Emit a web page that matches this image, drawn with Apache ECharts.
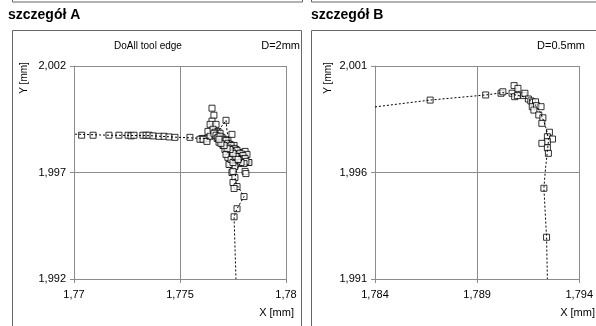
<!DOCTYPE html>
<html>
<head>
<meta charset="utf-8">
<script src="https://cdn.jsdelivr.net/npm/echarts@6/dist/echarts.min.js"></script>
<style>
  body { margin: 0; background: #fff; }
  #chart { width: 596px; height: 326px; }
</style>
</head>
<body>
<div id="chart"></div>
<script>
// tick labels (Polish decimal comma)
const xTicksA = ['1,77', '1,775', '1,78'];
const yTicksA = ['1,992', '1,997', '2,002'];
const xTicksB = ['1,784', '1,789', '1,794'];
const yTicksB = ['1,991', '1,996', '2,001'];

// detail A - measured points [X, Y] in mm
const pointsA = [
    [1.77036, 1.99875], [1.77090, 1.99875], [1.77165, 1.99875], [1.77212, 1.99875],
    [1.77255, 1.99875], [1.77269, 1.99872], [1.77283, 1.99875], [1.77325, 1.99875],
    [1.77340, 1.99875], [1.77354, 1.99875], [1.77373, 1.99872], [1.77401, 1.99870],
    [1.77425, 1.99870], [1.77448, 1.99867], [1.77476, 1.99865], [1.77547, 1.99865],
    [1.77604, 1.99860], [1.77627, 1.99860],
    [1.77651, 2.00002], [1.77660, 1.99969], [1.77717, 1.99945], [1.77651, 1.99941],
    [1.77642, 1.99926], [1.77670, 1.99926], [1.77632, 1.99893], [1.77656, 1.99903],
    [1.77679, 1.99893], [1.77745, 1.99879], [1.77594, 1.99856], [1.77609, 1.99856],
    [1.77627, 1.99846], [1.77642, 1.99870], [1.77665, 1.99889], [1.77679, 1.99875],
    [1.77689, 1.99884], [1.77698, 1.99865], [1.77708, 1.99856], [1.77693, 1.99846],
    [1.77717, 1.99842], [1.77726, 1.99851], [1.77736, 1.99832], [1.77722, 1.99823],
    [1.77745, 1.99818], [1.77755, 1.99827], [1.77750, 1.99804], [1.77764, 1.99808],
    [1.77774, 1.99794], [1.77759, 1.99785], [1.77783, 1.99780], [1.77769, 1.99771],
    [1.77792, 1.99761], [1.77778, 1.99752], [1.77802, 1.99771], [1.77675, 1.99860],
    [1.77684, 1.99842], [1.77703, 1.99827], [1.77712, 1.99808], [1.77731, 1.99799],
    [1.77741, 1.99785], [1.77755, 1.99771], [1.77764, 1.99757], [1.77774, 1.99742],
    [1.77788, 1.99794], [1.77807, 1.99799], [1.77816, 1.99785], [1.77821, 1.99747],
    [1.77726, 1.99771], [1.77736, 1.99738], [1.77759, 1.99728], [1.77807, 1.99705],
    [1.77745, 1.99700], [1.77759, 1.99676], [1.77750, 1.99653], [1.77769, 1.99634],
    [1.77755, 1.99625], [1.77802, 1.99587], [1.77769, 1.99530], [1.77755, 1.99492],
    [1.77731, 1.99738], [1.77825, 1.99747], [1.77811, 1.99695], [1.77750, 1.99705],
    [1.77717, 1.99785], [1.77741, 1.99761], [1.77750, 1.99747], [1.77700, 1.99835],
    [1.77730, 1.99815], [1.77748, 1.99790], [1.77760, 1.99770], [1.77785, 1.99765],
    [1.77660, 1.99884], [1.77670, 1.99875], [1.77679, 1.99865], [1.77689, 1.99870],
    [1.77698, 1.99856], [1.77708, 1.99846], [1.77717, 1.99851], [1.77717, 1.99832],
    [1.77726, 1.99837], [1.77731, 1.99823], [1.77741, 1.99827], [1.77745, 1.99808],
    [1.77755, 1.99813], [1.77759, 1.99799], [1.77769, 1.99804], [1.77774, 1.99785],
    [1.77783, 1.99790], [1.77788, 1.99775], [1.77797, 1.99780], [1.77797, 1.99761],
    [1.77807, 1.99766], [1.77778, 1.99766], [1.77764, 1.99775], [1.77750, 1.99790],
    [1.77736, 1.99808], [1.77722, 1.99813], [1.77708, 1.99827], [1.77693, 1.99837],
    [1.77684, 1.99856], [1.77811, 1.99752], [1.77802, 1.99742], [1.77788, 1.99747],
    [1.77774, 1.99761]
];

// detail A - dotted tool edge profile
const profileA = [
    [1.77005, 1.99880], [1.77165, 1.99875], [1.77358, 1.99873], [1.77476, 1.99866],
    [1.77604, 1.99860], [1.77656, 1.99862], [1.77717, 1.99945], [1.77722, 1.99893],
    [1.77736, 1.99832], [1.77774, 1.99794], [1.77792, 1.99761], [1.77769, 1.99715],
    [1.77759, 1.99676], [1.77764, 1.99650], [1.77788, 1.99610], [1.77802, 1.99587],
    [1.77769, 1.99530], [1.77755, 1.99492], [1.77764, 1.99200]
];

// detail B - measured points
const pointsB = [
    [1.78670, 1.99940], [1.78942, 1.99964], [1.79017, 1.99972], [1.79026, 1.99979],
    [1.79071, 1.99972], [1.79081, 2.00008], [1.79100, 1.99995], [1.79084, 1.99956],
    [1.79097, 1.99961], [1.79128, 1.99961], [1.79134, 1.99972], [1.79151, 1.99945],
    [1.79163, 1.99936], [1.79172, 1.99930], [1.79186, 1.99932], [1.79170, 1.99909],
    [1.79191, 1.99914], [1.79213, 1.99909], [1.79178, 1.99893], [1.79202, 1.99870],
    [1.79222, 1.99857], [1.79217, 1.99831], [1.79254, 1.99789], [1.79244, 1.99768],
    [1.79269, 1.99757], [1.79244, 1.99745], [1.79217, 1.99737], [1.79244, 1.99716],
    [1.79249, 1.99690], [1.79227, 1.99526], [1.79240, 1.99296]
];

// detail B - dotted profile
const profileB = [
    [1.78400, 1.99908], [1.78670, 1.99940], [1.78942, 1.99964], [1.79026, 1.99975],
    [1.79084, 1.99965], [1.79130, 1.99955], [1.79165, 1.99935], [1.79190, 1.99912],
    [1.79210, 1.99880], [1.79225, 1.99845], [1.79240, 1.99800], [1.79250, 1.99755],
    [1.79244, 1.99700], [1.79235, 1.99620], [1.79227, 1.99526], [1.79240, 1.99296],
    [1.79244, 1.99100]
];

const FONT = 'Liberation Sans, Arial, sans-serif';
const GRID_COLOR = '#8c8c8c';

function valueAxis(gridIndex, min, max, labels, isX) {
    return {
        type: 'value',
        gridIndex: gridIndex,
        min: min,
        max: max,
        interval: 0.005,
        axisLine: { show: true, lineStyle: { color: GRID_COLOR, width: 1 } },
        axisTick: { show: true, length: 4, lineStyle: { color: GRID_COLOR } },
        splitLine: { show: true, lineStyle: { color: GRID_COLOR, width: 1 } },
        axisLabel: {
            color: '#000',
            fontFamily: FONT,
            fontSize: 11,
            margin: isX ? 10 : 8,
            formatter: (v, i) => labels[i]
        }
    };
}

function renderChart() {
    const chart = echarts.init(document.getElementById('chart'));

    const dotted = { color: '#000', width: 1, type: [2, 2] };
    const square = { color: '#fff', borderColor: '#000', borderWidth: 1 };

    const option = {
        animation: false,
        grid: [
            { left: 74, top: 66, width: 212, height: 213 },
            { left: 375, top: 66, width: 212, height: 213 }
        ],
        xAxis: [
            valueAxis(0, 1.770, 1.780, xTicksA, true),
            valueAxis(1, 1.784, 1.794, xTicksB, true)
        ],
        yAxis: [
            valueAxis(0, 1.992, 2.002, yTicksA, false),
            valueAxis(1, 1.991, 2.001, yTicksB, false)
        ],
        series: [
            {
                type: 'line', xAxisIndex: 0, yAxisIndex: 0, data: profileA,
                showSymbol: false, lineStyle: dotted
            },
            {
                type: 'scatter', xAxisIndex: 0, yAxisIndex: 0, data: pointsA,
                symbol: 'rect', symbolSize: 6, itemStyle: square
            },
            {
                type: 'line', xAxisIndex: 1, yAxisIndex: 1, data: profileB,
                showSymbol: false, lineStyle: dotted
            },
            {
                type: 'scatter', xAxisIndex: 1, yAxisIndex: 1, data: pointsB,
                symbol: 'rect', symbolSize: 6, itemStyle: square
            }
        ],
        graphic: [
            // frames
            { type: 'rect', shape: { x: 12.5, y: -10, width: 290, height: 12 }, style: { fill: 'none', stroke: '#666', lineWidth: 1 } },
            { type: 'rect', shape: { x: 311.5, y: -10, width: 300, height: 12 }, style: { fill: 'none', stroke: '#666', lineWidth: 1 } },
            { type: 'rect', shape: { x: 12.5, y: 30.5, width: 289, height: 320 }, style: { fill: 'none', stroke: '#666', lineWidth: 1 } },
            { type: 'rect', shape: { x: 311.5, y: 30.5, width: 300, height: 320 }, style: { fill: 'none', stroke: '#666', lineWidth: 1 } },
            // headings
            { type: 'text', left: 8, top: 8, style: { text: 'szczegół A', font: 'bold 14px ' + FONT, fill: '#000' } },
            { type: 'text', left: 311, top: 8, style: { text: 'szczegół B', font: 'bold 14px ' + FONT, fill: '#000' } },
            // inner labels
            { type: 'text', x: 148, y: 46, style: { text: 'DoAll tool edge', font: '10px ' + FONT, fill: '#000', align: 'center', verticalAlign: 'middle' } },
            { type: 'text', x: 300, y: 46, style: { text: 'D=2mm', font: '11px ' + FONT, fill: '#000', align: 'right', verticalAlign: 'middle' } },
            { type: 'text', x: 585, y: 46, style: { text: 'D=0.5mm', font: '11px ' + FONT, fill: '#000', align: 'right', verticalAlign: 'middle' } },
            // axis names
            { type: 'text', x: 24, y: 78, rotation: Math.PI / 2, style: { text: 'Y [mm]', font: '10px ' + FONT, fill: '#000', align: 'center', verticalAlign: 'middle' } },
            { type: 'text', x: 328, y: 78, rotation: Math.PI / 2, style: { text: 'Y [mm]', font: '10px ' + FONT, fill: '#000', align: 'center', verticalAlign: 'middle' } },
            { type: 'text', x: 294, y: 313, style: { text: 'X [mm]', font: '11px ' + FONT, fill: '#000', align: 'right', verticalAlign: 'middle' } },
            { type: 'text', x: 595, y: 313, style: { text: 'X [mm]', font: '11px ' + FONT, fill: '#000', align: 'right', verticalAlign: 'middle' } }
        ]
    };

    chart.setOption(option);
}

document.addEventListener('DOMContentLoaded', renderChart);
</script>
</body>
</html>
